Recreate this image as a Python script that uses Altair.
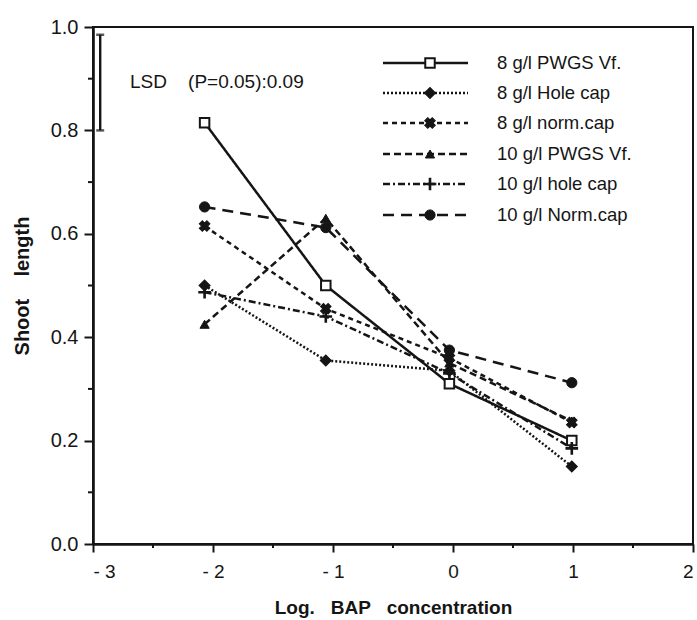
import altair as alt
import pandas as pd

# Log BAP concentration at which each treatment was sampled
log_bap = [-2.07, -1.06, -0.03, 0.99]

series_names = [
    "8 g/l PWGS Vf.",
    "8 g/l Hole cap",
    "8 g/l norm.cap",
    "10 g/l PWGS Vf.",
    "10 g/l hole cap",
    "10 g/l Norm.cap",
]

# Shoot length per treatment
pwgs_8 = [0.815, 0.500, 0.310, 0.200]
hole_8 = [0.500, 0.355, 0.335, 0.150]
norm_8 = [0.615, 0.455, 0.360, 0.235]
pwgs_10 = [0.425, 0.630, 0.350, 0.238]
hole_10 = [0.487, 0.440, 0.330, 0.185]
norm_10 = [0.652, 0.612, 0.375, 0.312]
series_values = [pwgs_8, hole_8, norm_8, pwgs_10, hole_10, norm_10]

# LSD bar (P=0.05)
lsd_x = [-2.94]
lsd_low = [0.80]
lsd_high = [0.985]

# Axis ticks
x_ticks = [-3, -2, -1, 0, 1, 2]
x_minor = [-2.5, -1.5, -0.5, 0.5, 1.5]
y_ticks = [0.0, 0.2, 0.4, 0.6, 0.8, 1.0]
y_minor = [0.1, 0.3, 0.5, 0.7, 0.9]

INK = "#151515"
FONT = "Liberation Sans"
W, H = 600, 517
NB = "\u00a0"

PLUS = "M-1,0L1,0M0,-1L0,1"
styles = [
    dict(dash=[1, 0], shape="square", filled=False, size=90, angle=0, sw=2.0),
    dict(dash=[2, 2], shape="diamond", filled=True, size=100, angle=0, sw=1.8),
    dict(dash=[5, 4], shape="cross", filled=True, size=115, angle=45, sw=1.0),
    dict(dash=[7, 4], shape="triangle-up", filled=True, size=85, angle=0, sw=1.0),
    dict(dash=[7, 3, 2, 3], shape=PLUS, filled=False, size=160, angle=0, sw=2.6),
    dict(dash=[11, 7], shape="circle", filled=True, size=105, angle=0, sw=1.0),
]

# legend layout (pixels inside the plot area)
leg_x0, leg_x1, leg_mark, leg_text = 290, 375, 337, 404
leg_rows = [36, 66, 96, 127, 157, 188]

x_scale = alt.Scale(domain=[-3, 2], nice=False, zero=False)
y_scale = alt.Scale(domain=[0, 1], nice=False, zero=False)

x_axis = alt.Axis(
    values=x_ticks,
    labelExpr="datum.value < 0 ? '- ' + (-datum.value) : '' + datum.value",
    title=f"Log.{NB}{NB} BAP{NB}{NB} concentration",
    titlePadding=17,
    labelPadding=10,
    tickSize=8,
    labelFontSize=19,
    titleFontSize=19,
)
y_axis = alt.Axis(
    values=y_ticks,
    format=".1f",
    title=f"Shoot{NB}{NB}{NB} length",
    titlePadding=18,
    labelPadding=6,
    tickSize=9,
    labelFontSize=20,
    titleFontSize=20,
)

layers = []

# minor ticks
layers.append(
    alt.Chart(pd.DataFrame({"x": x_minor}))
    .mark_rule(color=INK, strokeWidth=2)
    .encode(x=alt.X("x:Q", scale=x_scale, axis=x_axis), y=alt.value(H), y2=alt.value(H + 4))
)
layers.append(
    alt.Chart(pd.DataFrame({"y": y_minor}))
    .mark_rule(color=INK, strokeWidth=2)
    .encode(y=alt.Y("y:Q", scale=y_scale, axis=y_axis), x=alt.value(0), x2=alt.value(-5))
)

# LSD bar with caps
lsd_df = pd.DataFrame({"x": lsd_x, "lo": lsd_low, "hi": lsd_high})
layers.append(
    alt.Chart(lsd_df).mark_rule(color=INK, strokeWidth=2.4).encode(
        x=alt.X("x:Q", scale=x_scale), y=alt.Y("lo:Q", scale=y_scale), y2="hi:Q"
    )
)
for col in ["lo", "hi"]:
    layers.append(
        alt.Chart(lsd_df).mark_tick(color=INK, orient="horizontal", size=8, thickness=2.5).encode(
            x=alt.X("x:Q", scale=x_scale), y=alt.Y(f"{col}:Q", scale=y_scale)
        )
    )
layers.append(
    alt.Chart(pd.DataFrame({"t": [f"LSD{NB}{NB}{NB} (P=0.05):0.09"]}))
    .mark_text(align="left", baseline="middle", font=FONT, fontSize=19, color=INK)
    .encode(text="t:N", x=alt.value(37), y=alt.value(55))
)

for name, vals, st, ly in zip(series_names, series_values, styles, leg_rows):
    df = pd.DataFrame({"x": log_bap, "y": vals})
    fill = INK if st["filled"] else "white"
    if st["shape"] == PLUS:
        fill = "transparent"
    layers.append(
        alt.Chart(df).mark_line(color=INK, strokeWidth=2.5, strokeDash=st["dash"]).encode(
            x=alt.X("x:Q", scale=x_scale), y=alt.Y("y:Q", scale=y_scale)
        )
    )
    point_kw = dict(
        shape=st["shape"], size=st["size"], stroke=INK, fill=fill, filled=True,
        strokeWidth=st["sw"], opacity=1,
    )
    if st["angle"]:
        point_kw["angle"] = st["angle"]
    layers.append(
        alt.Chart(df).mark_point(**point_kw).encode(
            x=alt.X("x:Q", scale=x_scale), y=alt.Y("y:Q", scale=y_scale)
        )
    )
    one = pd.DataFrame({"label": [name]})
    layers.append(
        alt.Chart(one).mark_rule(color=INK, strokeWidth=2.5, strokeDash=st["dash"]).encode(
            x=alt.value(leg_x0), x2=alt.value(leg_x1), y=alt.value(ly)
        )
    )
    layers.append(
        alt.Chart(one).mark_point(**point_kw).encode(x=alt.value(leg_mark), y=alt.value(ly))
    )
    layers.append(
        alt.Chart(one)
        .mark_text(align="left", baseline="middle", font=FONT, fontSize=18.5, color=INK)
        .encode(text="label:N", x=alt.value(leg_text), y=alt.value(ly))
    )

chart = (
    alt.layer(*layers)
    .properties(
        width=W,
        height=H,
        autosize="none",
        padding={"left": 93, "top": 27, "right": 4, "bottom": 76},
        background="white",
    )
    .configure_view(stroke=INK, strokeWidth=2)
    .configure_axis(
        grid=False,
        domainColor=INK,
        domainWidth=2.6,
        tickColor=INK,
        tickWidth=2,
        labelFont=FONT,
        labelColor=INK,
        titleFont=FONT,
        titleFontWeight="bold",
        titleColor=INK,
    )
)

chart.save("out.html", embed_options={"renderer": "svg", "actions": False})
